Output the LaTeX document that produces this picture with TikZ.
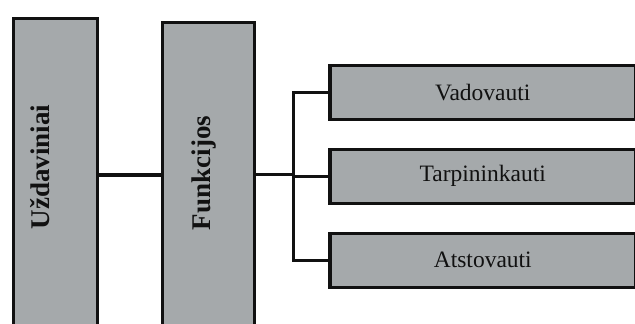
\documentclass[tikz,border=0pt]{standalone}
\usepackage{fontspec}
\setmainfont{Liberation Serif}
\usetikzlibrary{positioning}
\definecolor{boxgrey}{HTML}{A5A9AB}
\definecolor{inkblack}{HTML}{111111}
\tikzset{
  greybox/.style={draw=inkblack, line width=3.6pt, fill=boxgrey, inner sep=0pt},
  vlabel/.style={rotate=90, inner sep=0pt, text=inkblack, font=\fontsize{27}{31}\selectfont\bfseries},
  hlabel/.style={text=inkblack, font=\fontsize{23.5}{27}\selectfont},
  branch/.style={draw=inkblack, line width=3pt},
}
\begin{document}
\begin{tikzpicture}[x=1pt,y=-1pt]
\useasboundingbox (0,0) rectangle (635,324);
\clip (0,0) rectangle (635,324);

% tall boxes
\node[greybox, minimum width=84pt, minimum height=313pt, anchor=north west] (uzd) at (11.5,16.5) {};
\node[greybox, minimum width=92pt, minimum height=305pt, anchor=north west] (fun) at (160.5,20.5) {};
\node[vlabel] (uzdtext) at (40,167) {Uždaviniai};
\node[vlabel] (funtext) at (204,173) {Funkcijos};

% right boxes
\node[greybox, minimum width=306pt, minimum height=54pt, anchor=north west, hlabel] (vad) at (328,63.5) {Vadovauti};
\node[greybox, minimum width=306pt, minimum height=54pt, anchor=north west, hlabel] (tar) at (328,147.5) {Tarpininkauti};
\node[greybox, minimum width=306pt, minimum height=54pt, anchor=north west, hlabel] (ats) at (328,231.5) {Atstovauti};

% connectors
\draw[branch, line width=4.5pt] (uzd) -- (fun);
\draw[branch] (fun.east) -- ++(37,0) coordinate (fork);
\draw[branch, line cap=rect] (fork |- vad.west) -- (fork |- ats.west);
\draw[branch] (fork |- vad.west) -- (vad.west);
\draw[branch] (fork |- tar.west) -- (tar.west);
\draw[branch] (fork |- ats.west) -- (ats.west);

\end{tikzpicture}
\end{document}
